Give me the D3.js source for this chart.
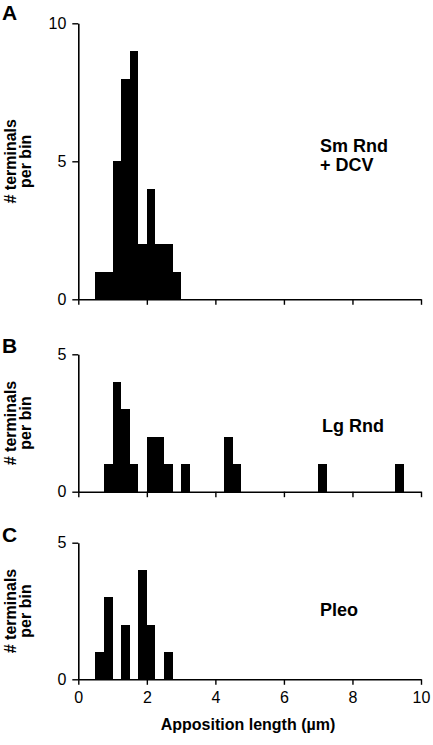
<!DOCTYPE html>
<html>
<head>
<meta charset="utf-8">
<script src="https://cdn.jsdelivr.net/npm/d3@7"></script>
<style>
  html, body { margin: 0; padding: 0; background: #fff; }
  svg { display: block; }
  text { font-family: "Liberation Sans", Arial, Helvetica, sans-serif; fill: #000; }
</style>
</head>
<body>
<svg id="chart" width="433" height="745"></svg>
<script>
// ---- data ----
const binWidth = 0.25;
const aBins   = [0.5, 0.75, 1.0, 1.25, 1.5, 1.75, 2.0, 2.25, 2.5, 2.75];
const aCounts = [1, 1, 5, 8, 9, 2, 4, 2, 2, 1];
const bBins   = [0.75, 1.0, 1.25, 1.5, 2.0, 2.25, 2.5, 3.0, 4.25, 4.5, 7.0, 9.25];
const bCounts = [1, 4, 3, 1, 2, 2, 1, 1, 2, 1, 1, 1];
const cBins   = [0.5, 0.75, 1.25, 1.75, 2.0, 2.5];
const cCounts = [1, 3, 2, 4, 2, 1];
const xTicks  = [0, 2, 4, 6, 8, 10];
const aYTicks = [0, 5, 10];
const bYTicks = [0, 5];
const cYTicks = [0, 5];
const panelLetters = ["A", "B", "C"];
const groupLabels = [["Sm Rnd", "+ DCV"], ["Lg Rnd"], ["Pleo"]];
const yTitle = ["# terminals", "per bin"];
const xTitle = "Apposition length (\u00b5m)";

// ---- layout ----
const svg = d3.select("#chart");
const x = d3.scaleLinear().domain([0, 10]).range([78.3, 421]);

const panels = [
  { bins: aBins, counts: aCounts, yMax: 10, yTicks: aYTicks, top: 23.3, bottom: 299.3,
    letterY: 20, labelX: 320, labelY: [152, 171], showX: false },
  { bins: bBins, counts: bCounts, yMax: 5, yTicks: bYTicks, top: 354.3, bottom: 491.7,
    letterY: 353, labelX: 322, labelY: [432], showX: false },
  { bins: cBins, counts: cCounts, yMax: 5, yTicks: cYTicks, top: 542.7, bottom: 679.3,
    letterY: 542, labelX: 320, labelY: [616], showX: true }
];

panels.forEach((p, i) => {
  const y = d3.scaleLinear().domain([0, p.yMax]).range([p.bottom, p.top]);
  const g = svg.append("g");

  // bars
  g.selectAll("rect.bar")
    .data(p.bins.map((b, j) => ({ x0: b, n: p.counts[j] })))
    .join("rect")
    .attr("class", "bar")
    .attr("x", d => x(d.x0))
    .attr("width", d => x(d.x0 + binWidth) - x(d.x0))
    .attr("y", d => y(d.n))
    .attr("height", d => y(0) - y(d.n))
    .attr("fill", "#000")
    .attr("shape-rendering", "crispEdges");

  // x axis
  const xa = d3.axisBottom(x).tickValues(xTicks).tickSize(5.5).tickSizeOuter(0).tickPadding(7)
    .tickFormat(d3.format("d"));
  if (!p.showX) xa.tickFormat("");
  const gx = g.append("g").attr("transform", `translate(0,${p.bottom})`).call(xa);
  gx.select(".domain").attr("stroke-width", 1.6);
  gx.selectAll(".tick line").attr("stroke-width", 1.4);
  gx.selectAll("text").attr("font-size", 16).attr("font-family", null);

  // y axis
  const ya = d3.axisLeft(y).tickValues(p.yTicks).tickSize(6).tickSizeOuter(0).tickPadding(6)
    .tickFormat(d3.format("d"));
  const gy = g.append("g").attr("transform", `translate(${x(0)},0)`).call(ya);
  gy.select(".domain").attr("stroke-width", 1.6);
  gy.selectAll(".tick line").attr("stroke-width", 1.4);
  gy.selectAll("text").attr("font-size", 16).attr("font-family", null);

  // panel letter
  svg.append("text").attr("x", 2).attr("y", p.letterY)
    .attr("font-size", 21).attr("font-weight", "bold").text(panelLetters[i]);

  // y title (two rotated lines)
  const cy = (p.top + p.bottom) / 2;
  const yt = svg.append("text")
    .attr("transform", `translate(0,${cy}) rotate(-90)`)
    .attr("text-anchor", "middle").attr("font-size", 16).attr("font-weight", "bold");
  yt.append("tspan").attr("x", 0).attr("y", 16).text(yTitle[0]);
  yt.append("tspan").attr("x", 0).attr("y", 31).text(yTitle[1]);

  // group label
  groupLabels[i].forEach((t, k) => {
    svg.append("text").attr("x", p.labelX).attr("y", p.labelY[k])
      .attr("font-size", 18).attr("font-weight", "bold").text(t);
  });
});

// x title
svg.append("text").attr("x", 248).attr("y", 730)
  .attr("text-anchor", "middle").attr("font-size", 16).attr("font-weight", "bold")
  .text(xTitle);
</script>
</body>
</html>
